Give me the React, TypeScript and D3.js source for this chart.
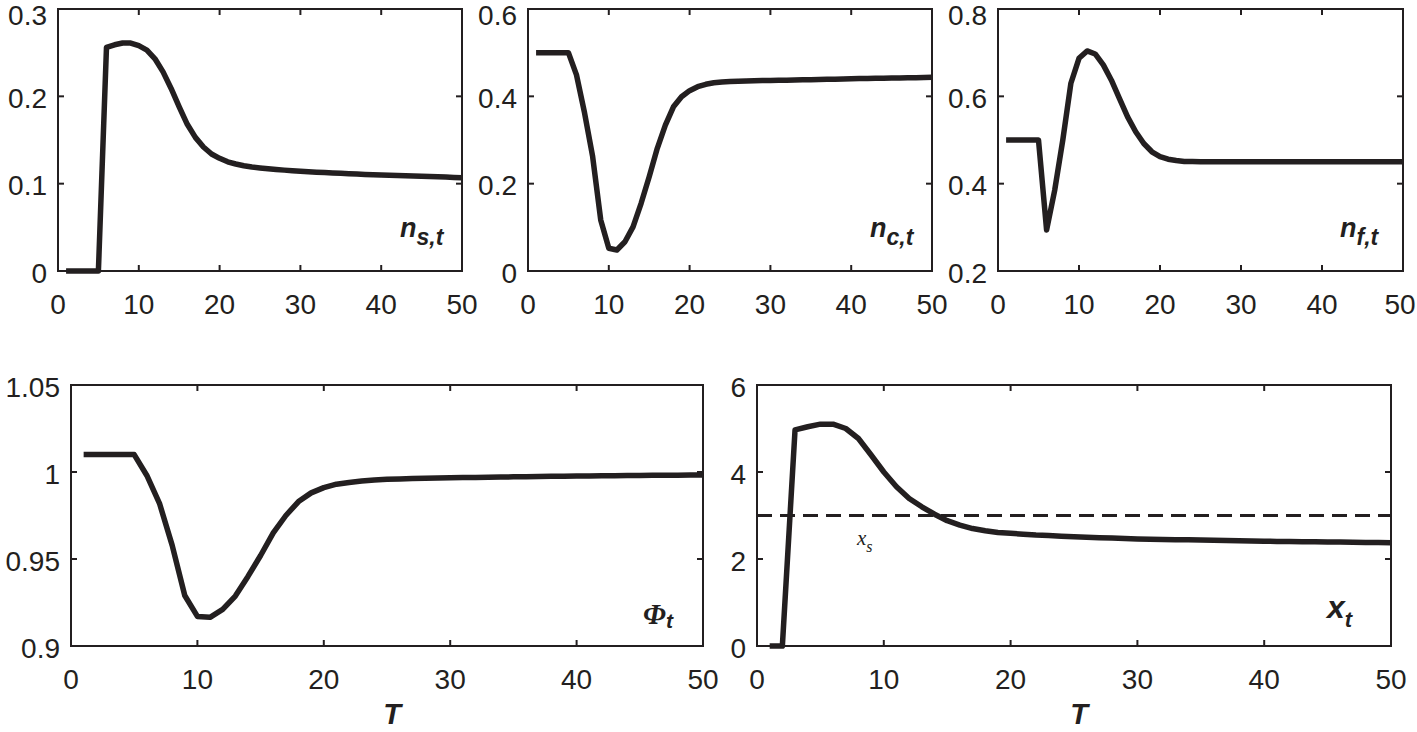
import React from 'react';
import * as d3 from 'd3';

// time periods 1..50
const periods = [
  1, 2, 3, 4, 5, 6, 7, 8, 9, 10, 11, 12, 13, 14, 15, 16, 17, 18, 19, 20, 21, 22, 23, 24, 25,
  26, 27, 28, 29, 30, 31, 32, 33, 34, 35, 36, 37, 38, 39, 40, 41, 42, 43, 44, 45, 46, 47, 48, 49, 50,
];

const nS = [
  0, 0, 0, 0, 0, 0.256, 0.259, 0.261, 0.261, 0.258,
  0.253, 0.243, 0.228, 0.209, 0.188, 0.168, 0.153, 0.142, 0.134, 0.129,
  0.125, 0.1225, 0.1205, 0.119, 0.118, 0.117, 0.1162, 0.1155, 0.1148, 0.1142,
  0.1137, 0.1132, 0.1127, 0.1122, 0.1118, 0.1114, 0.111, 0.1106, 0.1102, 0.1099,
  0.1096, 0.1093, 0.109, 0.1087, 0.1084, 0.1081, 0.1078, 0.1075, 0.1072, 0.1069,
];

const nC = [
  0.5, 0.5, 0.5, 0.5, 0.5, 0.449, 0.362, 0.262, 0.117, 0.052,
  0.048, 0.067, 0.101, 0.155, 0.216, 0.281, 0.334, 0.376, 0.399, 0.413,
  0.422, 0.4275, 0.431, 0.433, 0.434, 0.4345, 0.435, 0.4355, 0.436, 0.4363,
  0.4367, 0.437, 0.4374, 0.4378, 0.4382, 0.4386, 0.439, 0.4394, 0.4398, 0.4402,
  0.4406, 0.441, 0.4413, 0.4416, 0.4419, 0.4422, 0.4425, 0.4428, 0.4431, 0.4435,
];

const nF = [
  0.5, 0.5, 0.5, 0.5, 0.5, 0.294, 0.385, 0.5, 0.63, 0.687,
  0.704, 0.697, 0.672, 0.637, 0.595, 0.553, 0.519, 0.492, 0.473, 0.462,
  0.456, 0.453, 0.451, 0.4505, 0.45, 0.45, 0.45, 0.45, 0.45, 0.45,
  0.45, 0.45, 0.45, 0.45, 0.45, 0.45, 0.45, 0.45, 0.45, 0.45,
  0.45, 0.45, 0.45, 0.45, 0.45, 0.45, 0.45, 0.45, 0.45, 0.45,
];

const phi = [
  1.01, 1.01, 1.01, 1.01, 1.01, 0.998, 0.982, 0.958, 0.929, 0.917,
  0.9165, 0.921, 0.9287, 0.94, 0.952, 0.965, 0.975, 0.983, 0.988, 0.991,
  0.993, 0.994, 0.9948, 0.9954, 0.9958, 0.996, 0.9962, 0.9964, 0.9966, 0.9967,
  0.9968, 0.9969, 0.997, 0.9971, 0.9972, 0.9973, 0.9974, 0.9975, 0.9976, 0.9977,
  0.9977, 0.9978, 0.9979, 0.998, 0.998, 0.9981, 0.9982, 0.9982, 0.9983, 0.9983,
];

const xT = [
  0, 0, 4.97, 5.04, 5.1, 5.1, 5.0, 4.77, 4.39, 4.0,
  3.66, 3.39, 3.2, 3.03, 2.88, 2.78, 2.7, 2.65, 2.61, 2.59,
  2.57, 2.55, 2.54, 2.525, 2.51, 2.5, 2.49, 2.48, 2.47, 2.46,
  2.455, 2.45, 2.445, 2.44, 2.435, 2.43, 2.425, 2.42, 2.415, 2.41,
  2.405, 2.4, 2.397, 2.394, 2.391, 2.388, 2.385, 2.382, 2.379, 2.375,
];

const xSteady = 3;

const xTicks = [0, 10, 20, 30, 40, 50];

const W = 1417;
const H = 732;
const ink = '#231f20';
const sans = '"Liberation Sans", Arial, Helvetica, sans-serif';
const serif = '"Liberation Serif", "Times New Roman", serif';

type PanelDef = {
  values: number[];
  box: [number, number, number, number]; // left, right, top, bottom
  yDomain: [number, number];
  yTicks: number[];
  label: React.ReactNode;
  xLabel?: boolean;
  dashed?: number;
};

const fmt = d3.format('~g');

function Panel({ p }: { p: PanelDef }) {
  const [l, r, t, b] = p.box;
  const x = d3.scaleLinear().domain([0, 50]).range([l, r]);
  const y = d3.scaleLinear().domain(p.yDomain).range([b, t]);
  const line = d3
    .line<number>()
    .x((_, i) => x(periods[i]))
    .y((d) => y(d));
  const tl = 6;
  return (
    <g>
      <rect x={l} y={t} width={r - l} height={b - t} fill="none" stroke={ink} strokeWidth={2} />
      {xTicks.map((v) => (
        <g key={'x' + v}>
          <line x1={x(v)} x2={x(v)} y1={b} y2={b - tl} stroke={ink} strokeWidth={2} />
          <line x1={x(v)} x2={x(v)} y1={t} y2={t + tl} stroke={ink} strokeWidth={2} />
          <text x={Math.min(x(v), W - 17)} y={b + 33} textAnchor="middle" dominantBaseline="central" fontSize={28} fill={ink} fontFamily={sans}>
            {v}
          </text>
        </g>
      ))}
      {p.yTicks.map((v) => (
        <g key={'y' + v}>
          <line x1={l} x2={l + tl} y1={y(v)} y2={y(v)} stroke={ink} strokeWidth={2} />
          <line x1={r} x2={r - tl} y1={y(v)} y2={y(v)} stroke={ink} strokeWidth={2} />
          <text x={l - 11} y={Math.max(y(v) + 2, 15)} textAnchor="end" dominantBaseline="central" fontSize={28} fill={ink} fontFamily={sans}>
            {fmt(v)}
          </text>
        </g>
      ))}
      {p.dashed !== undefined && (
        <line x1={l} x2={r} y1={y(p.dashed)} y2={y(p.dashed)} stroke={ink} strokeWidth={3} strokeDasharray="15 8" />
      )}
      <path d={line(p.values) || ''} fill="none" stroke={ink} strokeWidth={5.5} strokeLinejoin="round" />
      {p.label}
      {p.xLabel && (
        <text x={(l + r) / 2 + 5} y={724} textAnchor="middle" fontSize={29} fontWeight="bold" fontStyle="italic" fill={ink} fontFamily={sans}>
          T
        </text>
      )}
    </g>
  );
}

function nLabel(x: number, sub: string) {
  return (
    <text x={x} y={237} fontSize={27} fontWeight="bold" fontStyle="italic" fill={ink} fontFamily={sans}>
      n
      <tspan dy={8} fontSize={23}>
        {sub}
      </tspan>
    </text>
  );
}

const panels: PanelDef[] = [
  { values: nS, box: [58, 462, 9, 271], yDomain: [0, 0.3], yTicks: [0, 0.1, 0.2, 0.3], label: nLabel(400, 's,t') },
  { values: nC, box: [528, 932, 9, 271], yDomain: [0, 0.6], yTicks: [0, 0.2, 0.4, 0.6], label: nLabel(870, 'c,t') },
  { values: nF, box: [998, 1403, 9, 271], yDomain: [0.2, 0.8], yTicks: [0.2, 0.4, 0.6, 0.8], label: nLabel(1340, 'f,t') },
  {
    values: phi,
    box: [71, 703, 385, 646],
    yDomain: [0.9, 1.05],
    yTicks: [0.9, 0.95, 1, 1.05],
    xLabel: true,
    label: (
      <text x={643} y={624} fontSize={29} fontWeight="bold" fontStyle="italic" fill={ink} fontFamily={serif}>
        Φ
        <tspan dy={4} fontSize={21} fontFamily={sans}>
          t
        </tspan>
      </text>
    ),
  },
  {
    values: xT,
    box: [757, 1391, 385, 646],
    yDomain: [0, 6],
    yTicks: [0, 2, 4, 6],
    xLabel: true,
    dashed: xSteady,
    label: (
      <g>
        <text x={1327} y={618} fontSize={32} fontWeight="bold" fontStyle="italic" fill={ink} fontFamily={sans}>
          x
          <tspan dy={9} fontSize={22}>
            t
          </tspan>
        </text>
        <text x={857} y={545} fontSize={21} fontStyle="italic" fill={ink} fontFamily={serif}>
          x
          <tspan dy={7} fontSize={16}>
            s
          </tspan>
        </text>
      </g>
    ),
  },
];

export default function App() {
  return (
    <svg width={W} height={H} style={{ position: 'absolute', left: 0, top: 0, background: '#fff' }}>
      <rect width={W} height={H} fill="#fff" />
      {panels.map((p, i) => (
        <Panel key={i} p={p} />
      ))}
    </svg>
  );
}
